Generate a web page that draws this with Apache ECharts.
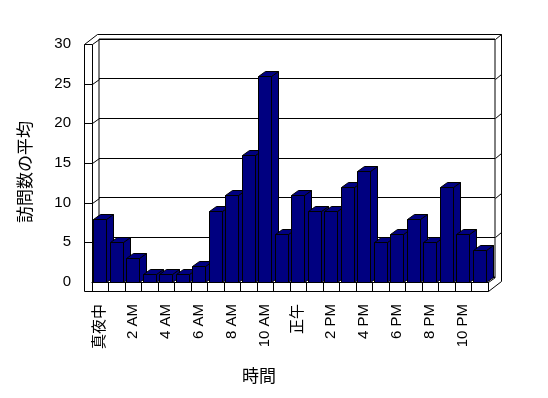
<!DOCTYPE html>
<html>
<head>
<meta charset="utf-8">
<script src="https://cdn.jsdelivr.net/npm/echarts@6/dist/echarts.min.js"></script>
<style>
  html, body { margin: 0; background: #fff; }
  #chart { width: 548px; height: 398px; }
</style>
</head>
<body>
<div id="chart"></div>
<script>
// 時間ごとの訪問数の平均
const hours = [
  '真夜中', '1 AM', '2 AM', '3 AM', '4 AM', '5 AM', '6 AM', '7 AM', '8 AM', '9 AM', '10 AM', '11 AM',
  '正午', '1 PM', '2 PM', '3 PM', '4 PM', '5 PM', '6 PM', '7 PM', '8 PM', '9 PM', '10 PM', '11 PM'
];
const visits = [8, 5, 3, 1, 1, 1, 2, 9, 11, 16, 26, 6, 11, 9, 9, 12, 14, 5, 6, 8, 5, 12, 6, 4];
const yTicks = [0, 5, 10, 15, 20, 25, 30];
const yTitle = '訪問数の平均';
const xTitle = '時間';

const FONT = '"Liberation Sans", "Noto Sans CJK JP", sans-serif';
const CJK = '"Noto Sans CJK JP", sans-serif';
const BAR = '#000080';
// 奥行きのずれ (壁の内側 / 外側)
const D1 = [7, -5];
const D2 = [13, -10];
const LW = 8;   // 左の壁の厚さ
const FT = 9;   // 床の厚さ

function renderItem(params, api) {
  const base = api.coord([api.value(0), 0]);
  const top = api.coord([api.value(0), api.value(1)]);
  const band = api.size([1, 0])[0];
  const x0 = Math.round(base[0] - band / 2 + 1) + 0.5;
  const x1 = x0 + Math.round(band * 0.81);
  const y0 = Math.round(top[1]) + 0.5;
  const y1 = Math.round(base[1]) + 0.5;
  const style = { fill: BAR, stroke: '#000', lineWidth: 1 };
  return {
    type: 'group',
    children: [
      { type: 'polygon', shape: { points: [[x1, y0], [x1 + D1[0], y0 + D1[1]], [x1 + D1[0], y1 + D1[1]], [x1, y1]] }, style: style },
      { type: 'polygon', shape: { points: [[x0, y0], [x0 + D1[0], y0 + D1[1]], [x1 + D1[0], y0 + D1[1]], [x1, y0]] }, style: style },
      { type: 'rect', shape: { x: x0, y: y0, width: x1 - x0, height: y1 - y0 }, style: style }
    ]
  };
}

const chart = echarts.init(document.getElementById('chart'));
const option = {
  animation: false,
  grid: [
    { left: 92, right: 60, top: 44, bottom: 116 },
    { left: 99, right: 53, top: 39, bottom: 121, show: true, borderColor: '#000', borderWidth: 1, backgroundColor: 'transparent' }
  ],
  xAxis: [
    {
      type: 'category',
      gridIndex: 0,
      data: hours,
      axisLine: { lineStyle: { color: '#000', width: 1 } },
      axisTick: { show: true, interval: 0, length: 9, lineStyle: { color: '#000' } },
      axisLabel: { interval: 1, rotate: 90, margin: 22, fontSize: 15, color: '#000', fontFamily: FONT }
    },
    { type: 'category', gridIndex: 1, data: hours, show: false }
  ],
  yAxis: [
    {
      type: 'value',
      gridIndex: 0,
      min: 0,
      max: 30,
      interval: 5,
      axisLine: { show: false },
      axisTick: { show: false },
      splitLine: { show: false },
      axisLabel: { margin: 21, fontSize: 15, color: '#000', fontFamily: FONT }
    },
    {
      type: 'value',
      gridIndex: 1,
      min: 0,
      max: 30,
      interval: 5,
      axisLine: { show: false },
      axisTick: { show: false },
      axisLabel: { show: false },
      splitLine: { lineStyle: { color: '#000', width: 1 } }
    }
  ],
  series: [
    {
      type: 'custom',
      xAxisIndex: 0,
      yAxisIndex: 0,
      z: 5,
      renderItem: renderItem,
      data: visits.map((v, i) => [i, v])
    }
  ]
};
chart.setOption(option);

// 壁と床
const yv = v => Math.round(chart.convertToPixel({ yAxisIndex: 0 }, v)) + 0.5;
const L = 92.5, R = 488.5;
const yT = yv(yTicks[yTicks.length - 1]);
const yB = yv(0);
const lines = [
  [[L - LW, yB + FT], [L - LW, yT], [L, yT], [L, yB]],
  [[L - LW, yT], [L - LW + D2[0], yT + D2[1]], [R + D2[0], yT + D2[1]]],
  [[L, yT], [L + D1[0], yT + D1[1]]],
  [[R + D1[0], yT + D1[1]], [R + D2[0], yT + D2[1]], [R + D2[0], yB + FT + D2[1]], [R, yB + FT]],
  [[L - LW, yB + FT], [R, yB + FT], [R, yB], [R + D1[0], yB + D1[1]]]
];
yTicks.forEach(t => {
  if (t === 0 || t === yTicks[yTicks.length - 1]) return;
  const y = yv(t);
  lines.push([[L - LW, y], [L, y], [L + D1[0], y + D1[1]]]);
  lines.push([[R + D1[0], y + D1[1]], [R + D2[0], y + D2[1]]]);
});

const graphics = lines.map(pts => ({
  type: 'polyline',
  z: 0,
  silent: true,
  shape: { points: pts },
  style: { stroke: '#000', lineWidth: 1, fill: null }
}));
graphics.push({
  type: 'text',
  x: 25,
  y: 172,
  rotation: Math.PI / 2,
  style: { text: yTitle, align: 'center', verticalAlign: 'middle', font: '17px ' + CJK, fill: '#000' }
});
graphics.push({
  type: 'text',
  x: 259,
  y: 376,
  style: { text: xTitle, align: 'center', verticalAlign: 'middle', font: '17px ' + CJK, fill: '#000' }
});
chart.setOption({ graphic: graphics });
</script>
</body>
</html>
